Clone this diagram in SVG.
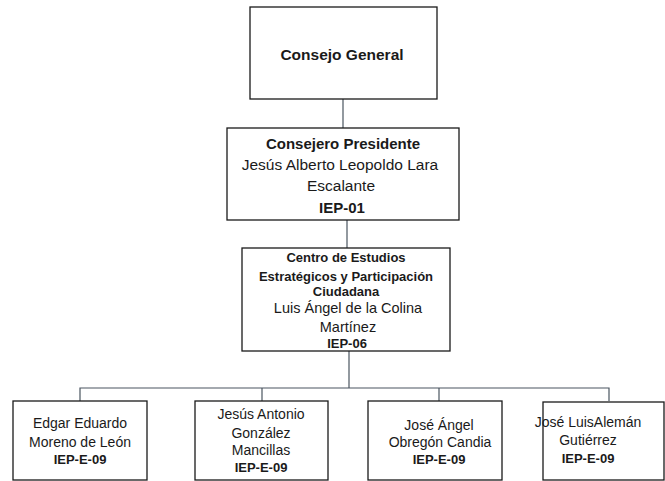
<svg xmlns="http://www.w3.org/2000/svg" width="665" height="481" viewBox="0 0 665 481">
<style>
.box{fill:#fff;stroke:#1a1a1a;stroke-width:1.3}
.t{font-family:"Liberation Sans",Arial,sans-serif;text-anchor:middle;fill:#1a1a1a}
.b{font-weight:bold}
.conn{fill:none;stroke:#4a5560;stroke-width:1.2}
</style>
<rect width="665" height="481" fill="#fff"/>
<g id="connectors">
<line class="conn" x1="343" y1="99" x2="343" y2="128"/>
<line class="conn" x1="347" y1="220" x2="347" y2="248"/>
<line class="conn" x1="349" y1="351" x2="349" y2="388"/>
<polyline class="conn" points="80,401 80,388 609,388 609,401"/>
<line class="conn" x1="262" y1="388" x2="262" y2="401"/>
<line class="conn" x1="439" y1="388" x2="439" y2="401"/>
</g>
<g id="consejo-general">
<rect class="box" x="250" y="7" width="187" height="92"/>
<text class="t b" x="342" y="60" font-size="15.5">Consejo General</text>
</g>
<g id="consejero-presidente">
<rect class="box" x="227" y="128" width="232" height="92"/>
<text class="t b" x="343" y="149" font-size="15">Consejero Presidente</text>
<text class="t" x="340" y="170" font-size="15.5">Jesús Alberto Leopoldo Lara</text>
<text class="t" x="341" y="191" font-size="15.5">Escalante</text>
<text class="t b" x="342" y="213" font-size="15">IEP-01</text>
</g>
<g id="centro-estudios">
<rect class="box" x="242" y="248" width="208" height="103"/>
<text class="t b" x="346" y="262" font-size="13">Centro de Estudios</text>
<text class="t b" x="346" y="281" font-size="13">Estratégicos y Participación</text>
<text class="t b" x="346" y="296" font-size="13">Ciudadana</text>
<text class="t" x="348" y="313" font-size="14.5">Luis Ángel de la Colina</text>
<text class="t" x="348" y="332" font-size="14.5">Martínez</text>
<text class="t b" x="347" y="348" font-size="13">IEP-06</text>
</g>
<g id="edgar">
<rect class="box" x="13" y="401" width="134" height="79"/>
<text class="t" x="80" y="428" font-size="14">Edgar Eduardo</text>
<text class="t" x="80" y="447" font-size="14">Moreno de León</text>
<text class="t b" x="80" y="464" font-size="13">IEP-E-09</text>
</g>
<g id="jesus-antonio">
<rect class="box" x="195" y="401" width="133" height="79"/>
<text class="t" x="261" y="419" font-size="14">Jesús Antonio</text>
<text class="t" x="261" y="438" font-size="14">González</text>
<text class="t" x="261" y="455" font-size="14">Mancillas</text>
<text class="t b" x="261" y="472" font-size="13">IEP-E-09</text>
</g>
<g id="jose-angel">
<rect class="box" x="368" y="401" width="134" height="79"/>
<text class="t" x="439" y="430" font-size="14">José Ángel</text>
<text class="t" x="440" y="447" font-size="14">Obregón Candia</text>
<text class="t b" x="439" y="464" font-size="13">IEP-E-09</text>
</g>
<g id="jose-luis">
<rect class="box" x="543" y="402" width="121" height="78"/>
<text class="t" x="588" y="427" font-size="14">José LuisAlemán</text>
<text class="t" x="588" y="445" font-size="14">Gutiérrez</text>
<text class="t b" x="588" y="463" font-size="13">IEP-E-09</text>
</g>
</svg>
